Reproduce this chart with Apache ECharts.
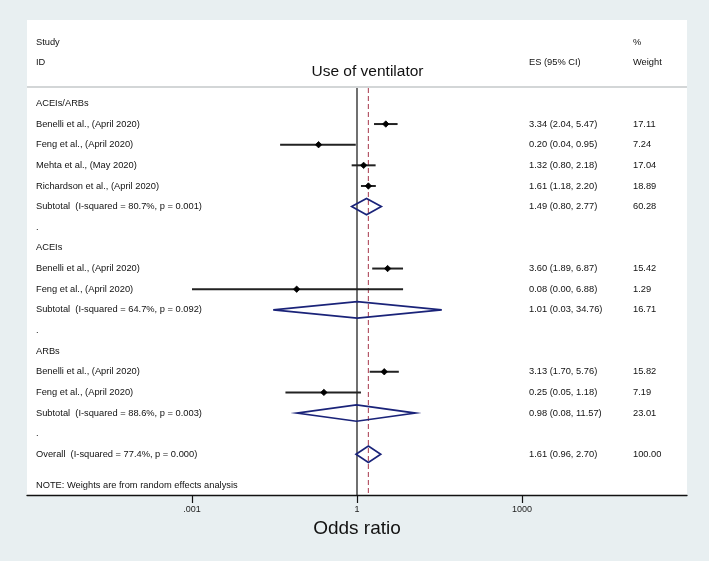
<!DOCTYPE html>
<html><head><meta charset="utf-8">
<script src="https://cdn.jsdelivr.net/npm/echarts@6/dist/echarts.min.js"></script>
<style>html,body{margin:0;padding:0;background:#e8eff1}#c{width:709px;height:561px}</style>
</head><body><div id="c"></div><script>
// ---------- data ----------
const rowLabels = [
  'ACEIs/ARBs',
  'Benelli et al., (April 2020)',
  'Feng et al., (April 2020)',
  'Mehta et al., (May 2020)',
  'Richardson et al., (April 2020)',
  'Subtotal  (I-squared = 80.7%, p = 0.001)',
  '.',
  'ACEIs',
  'Benelli et al., (April 2020)',
  'Feng et al., (April 2020)',
  'Subtotal  (I-squared = 64.7%, p = 0.092)',
  '.',
  'ARBs',
  'Benelli et al., (April 2020)',
  'Feng et al., (April 2020)',
  'Subtotal  (I-squared = 88.6%, p = 0.003)',
  '.',
  'Overall  (I-squared = 77.4%, p = 0.000)'
];
const rowKinds = ['group','study','study','study','study','pooled','gap',
                  'group','study','study','pooled','gap',
                  'group','study','study','pooled','gap','pooled'];
const estimates = [null,3.34,0.20,1.32,1.61,1.49,null,null,3.60,0.08,1.01,null,null,3.13,0.25,0.98,null,1.61];
const lowerCI   = [null,2.04,0.04,0.80,1.18,0.80,null,null,1.89,0.001,0.03,null,null,1.70,0.05,0.08,null,0.96];
const upperCI   = [null,5.47,0.95,2.18,2.20,2.77,null,null,6.87,6.88,34.76,null,null,5.76,1.18,11.57,null,2.70];
const weights   = ['','17.11','7.24','17.04','18.89','60.28','','','15.42','1.29','16.71','','','15.82','7.19','23.01','','100.00'];
const noteText = 'NOTE: Weights are from random effects analysis';
const overallEstimate = 1.61;
const referenceValues = [1, overallEstimate];
const xTickValues = [0.001, 1, 1000];
const xTickLabels = ['.001', '1', '1000'];

// ---------- layout ----------
const FONT = '"Liberation Sans", Arial, Helvetica, sans-serif';
const SMALL = '9.3px ' + FONT;
const COL_STUDY = 36, COL_ES = 529, COL_WT = 633;
const SEP_Y = 87;
const NAVY = '#1a2379';

const esText = estimates.map((e, i) => e == null ? '' :
  e.toFixed(2) + ' (' + lowerCI[i].toFixed(2) + ', ' + upperCI[i].toFixed(2) + ')');

const chart = echarts.init(document.getElementById('c'), null, {renderer: 'canvas'});

function txt(x, y, text, extra) {
  return Object.assign({type: 'text', style: {x, y, text, font: SMALL, fill: '#111',
    align: 'left', verticalAlign: 'middle', textAlign: 'left', textVerticalAlign: 'middle'}}, extra || {});
}

const textData = rowLabels.map((_, i) => [1, i]);
const markData = [];
estimates.forEach((e, i) => { if (e != null) markData.push([e, i, lowerCI[i], upperCI[i], i]); });

chart.setOption({
  backgroundColor: '#e8eff1',
  animation: false,
  grid: {left: 27, right: 22, top: 20, bottom: 66, show: true, backgroundColor: '#ffffff', borderWidth: 0, outerBoundsMode: 'none'},
  xAxis: {
    type: 'log', logBase: 10, min: 1e-6, max: 1e6, interval: 3,
    axisLine: {onZero: false, lineStyle: {color: '#111', width: 1.3}},
    axisTick: {length: 8, lineStyle: {color: '#111', width: 1.2}, customValues: xTickValues},
    axisLabel: {
      customValues: xTickValues,
      formatter: function (v) {
        const i = xTickValues.findIndex(t => Math.abs(Math.log10(t) - Math.log10(v)) < 1e-6);
        return i >= 0 ? xTickLabels[i] : '';
      },
      fontSize: 9, color: '#222', margin: 10, fontFamily: FONT
    },
    splitLine: {show: false},
    name: 'Odds ratio', nameLocation: 'middle', nameGap: 21,
    nameTextStyle: {fontSize: 19, color: '#111', fontFamily: FONT}
  },
  yAxis: {type: 'value', inverse: true, min: -4.04, max: 18.97, show: false},
  graphic: [
    {type: 'line', shape: {x1: 27, y1: SEP_Y, x2: 687, y2: SEP_Y}, style: {stroke: '#c4c8ca', lineWidth: 1.5}},
    txt(COL_STUDY, 42.3, 'Study'),
    txt(COL_STUDY, 62.5, 'ID'),
    txt(COL_ES, 62.5, 'ES (95% CI)'),
    txt(COL_WT, 42, '%'),
    txt(COL_WT, 62.5, 'Weight'),
    {type: 'text', style: {x: 367.5, y: 72, text: 'Use of ventilator', font: '15.5px ' + FONT, fill: '#111',
      align: 'center', verticalAlign: 'middle', textAlign: 'center', textVerticalAlign: 'middle'}},
    txt(COL_STUDY, 485, noteText)
  ],
  series: [
    {
      type: 'custom', name: 'reference', clip: false, z: 1,
      data: referenceValues.map(v => [v, 0]),
      encode: {x: 0, y: 1},
      renderItem: function (params, api) {
        const x = api.coord([api.value(0), 0])[0];
        const bottom = params.coordSys.y + params.coordSys.height;
        const first = params.dataIndex === 0;
        return {type: 'line', shape: {x1: x, y1: SEP_Y + 1, x2: x, y2: bottom},
          style: first ? {stroke: '#111', lineWidth: 1.2}
                       : {stroke: '#b04a5c', lineWidth: 1.1, lineDash: [5, 3]}};
      }
    },
    {
      type: 'custom', name: 'marks', clip: false, z: 3,
      data: markData,
      encode: {x: [0, 2, 3], y: 1},
      renderItem: function (params, api) {
        const row = api.value(1), i = api.value(4);
        const pe = api.coord([api.value(0), row]);
        const pl = api.coord([api.value(2), row]);
        const ph = api.coord([api.value(3), row]);
        if (rowKinds[i] === 'pooled') {
          const h = 8.2;
          return {type: 'polygon', shape: {points: [[pl[0], pe[1]], [pe[0], pe[1] - h], [ph[0], pe[1]], [pe[0], pe[1] + h]]},
            style: {fill: 'none', stroke: NAVY, lineWidth: 1.7}};
        }
        const d = 3.2;
        return {type: 'group', children: [
          {type: 'line', shape: {x1: pl[0], y1: pe[1], x2: ph[0], y2: pe[1]}, style: {stroke: '#222', lineWidth: 2}},
          {type: 'polygon', shape: {points: [[pe[0] - d, pe[1]], [pe[0], pe[1] - d], [pe[0] + d, pe[1]], [pe[0], pe[1] + d]]},
            style: {fill: '#000', stroke: '#000', lineWidth: 0.8}}
        ]};
      }
    },
    {
      type: 'custom', name: 'columns', clip: false, z: 4,
      data: textData,
      encode: {x: 0, y: 1},
      renderItem: function (params, api) {
        const i = params.dataIndex;
        const y = api.coord([1, api.value(1)])[1];
        const children = [txt(COL_STUDY, y, rowLabels[i])];
        if (esText[i]) children.push(txt(COL_ES, y, esText[i]));
        if (weights[i]) children.push(txt(COL_WT, y, weights[i]));
        return {type: 'group', children};
      }
    }
  ]
});
</script></body></html>
